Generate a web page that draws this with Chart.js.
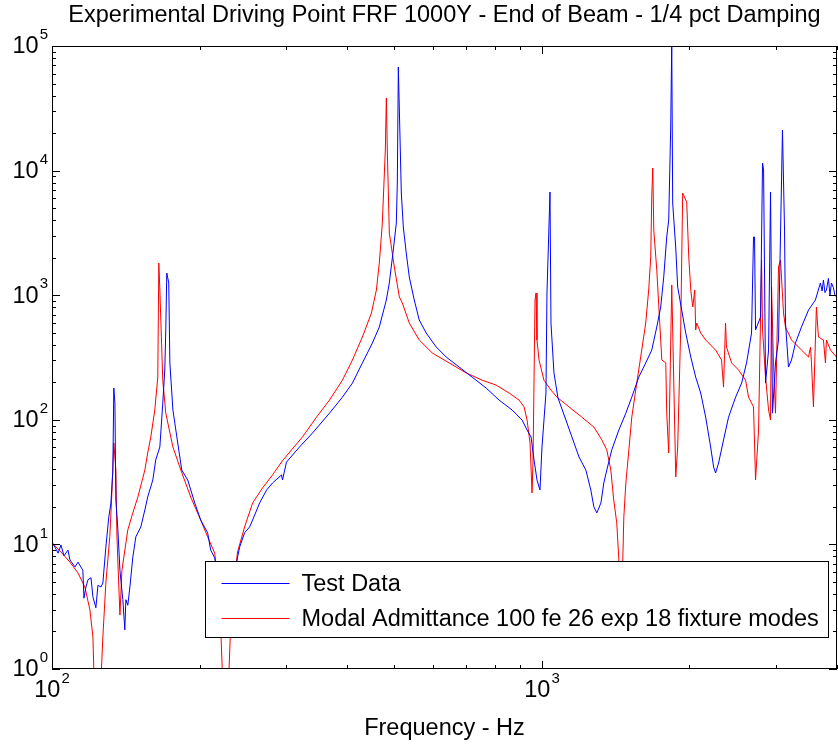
<!DOCTYPE html>
<html>
<head>
<meta charset="utf-8">
<title>Driving Point FRF</title>
<script src="https://cdn.jsdelivr.net/npm/chart.js@4.4.0/dist/chart.umd.min.js"></script>
<style>
  html, body { margin: 0; padding: 0; background: #fff; }
  #wrap { width: 838px; height: 745px; }
</style>
</head>
<body>
<div id="wrap"><canvas id="frf" width="838" height="745"></canvas></div>
<script>
// --- data (Hz, magnitude) ---
var testFreq = [
  100, 101.4, 102.9, 104.3, 105.8, 107.8, 108.8, 111.4, 113, 115.6,
  116.2, 117.3, 118.4, 120.1, 121.2, 122.9, 124.1, 125.9, 127.0, 128.8,
  130.6, 131.9, 133.1, 133.7, 134.4, 135.0, 136.3, 137.6, 139.5, 140.8,
  141.5, 142.8, 144.2, 146.2, 148.3, 151.8, 154.7, 156.8, 160.6, 162.8,
  166.0, 168.3, 169.9, 170.7, 171.5, 173.1, 174.0, 176.5, 179.8, 184.0,
  189.2, 195.6, 201.1, 207.8, 210.8, 214.8, 222, 237, 239.2, 241.5,
  247.2, 253.1, 256.7, 265.3, 274.1, 281.9, 294.0, 295.4, 301, 320,
  340.1, 368.4, 391.5, 410.3, 430, 450.7, 465.6, 481.2, 488, 497.2,
  504.3, 506.7, 509.1, 516.3, 521.2, 528.4, 536, 548.7, 561.7, 580.4,
  608.3, 637.5, 677.6, 720.1, 769, 817.4, 868.8, 910.7, 932.3, 949.9,
  963.3, 976.8, 990.6, 1000, 1018.8, 1023.7, 1038.3, 1043.1, 1057.8, 1077.9,
  1119, 1151, 1190, 1229, 1258, 1276, 1294, 1319, 1337, 1356,
  1388, 1435, 1483, 1525, 1576, 1628, 1675, 1715, 1747, 1772,
  1797, 1814, 1831, 1840, 1848, 1875, 1892, 1928, 1965, 2012,
  2059, 2108, 2158, 2209, 2240, 2261, 2293, 2347, 2403, 2484,
  2555, 2615, 2677, 2702, 2715, 2728, 2793, 2819, 2833, 2859,
  2900, 2927, 2954, 2996, 3039, 3096, 3126, 3140, 3185, 3230,
  3291, 3385, 3499, 3614, 3700, 3730, 3753, 3780, 3806, 3842,
  3870, 3897, 3933, 3960, 3990
];
var testMag = [
  10.4, 9.5, 8.5, 9.9, 8.1, 9.0, 7.5, 6.6, 7.2, 6.2,
  3.7, 4.55, 5.2, 5.4, 3.8, 3.1, 4.7, 4.55, 4.9, 9.5,
  16.6, 21.5, 39.5, 180, 136, 22.7, 13.1, 6.2, 3.6, 2.06,
  3.6, 3.25, 4.55, 7.9, 11.5, 13.8, 18.9, 24, 32.9, 47.6,
  60.5, 136, 251, 526, 1507, 1253, 286, 120, 72.8, 39.5,
  32.9, 21.5, 15.7, 12.4, 9.0, 7.8, 3.6, 6.2, 7.9, 9.5,
  12.4, 13.8, 15.7, 21.5, 27.3, 31.1, 36.1, 32.9, 45.8, 60.5,
  78.3, 113, 152, 197, 286, 413, 556, 915, 1253, 2306,
  3795, 7950, 67800, 6610, 3524, 2183, 1400, 915, 632, 497,
  384, 319, 265, 220, 180, 144, 120, 99.6, 82.8, 72.8,
  47.6, 32.9, 27.3, 60.5, 164, 1042, 6730, 598, 238, 150,
  99.6, 72.8, 50.3, 39.5, 27.3, 20, 17.9, 21.5, 31.1, 39.5,
  57.3, 82.8, 113, 152, 220, 286, 363, 556, 804, 1400,
  2931, 4017, 22390, 105000, 5500, 2393, 1164, 760, 497, 319,
  220, 164, 105, 60.5, 41.8, 37.4, 45, 68.9, 105, 152,
  197, 286, 497, 2931, 2931, 526, 668, 11510, 10120, 197,
  363, 6730, 113, 286, 437, 21180, 3334, 598, 265, 302,
  413, 556, 760, 915, 1253, 1080, 1324, 1050, 1101, 1364,
  1000, 1253, 1150, 1004, 968
];

var modalFreq = [
  100, 104.3, 108.8, 113, 116.7, 119.5, 121.2, 122.3, 125.2, 127,
  128.8, 131.2, 132.5, 133.7, 135, 135.7, 136.9, 137.6, 138.9, 142.8,
  146.2, 149.7, 154.7, 156.8, 159.1, 162.1, 164.4, 165.2, 166, 168.3,
  170.7, 176.5, 183.2, 191.9, 201.1, 207.8, 214.8, 219.9, 224, 228.3,
  232.6, 239.2, 247.2, 256.7, 269, 281.9, 294, 308.1, 324.5, 346.6,
  368.4, 391.5, 410.3, 430, 448.6, 459.2, 465.6, 472.2, 478.9, 481.2,
  483.4, 488, 499.6, 511.5, 518.8, 536, 561.7, 597, 646.5, 700.1,
  754.7, 806, 856.7, 898, 919.2, 932.3, 945.4, 954.3, 958.8, 967.8,
  972.3, 976.8, 986.1, 1009.3, 1043.1, 1073, 1135, 1206, 1276, 1325,
  1356, 1382, 1401, 1421, 1435, 1442, 1455, 1469, 1483, 1504,
  1525, 1561, 1598, 1628, 1651, 1667, 1675, 1683, 1691, 1715,
  1739, 1756, 1789, 1797, 1814, 1840, 1875, 1892, 1919, 1937,
  1965, 1974, 1993, 2012, 2031, 2050, 2059, 2069, 2108, 2158,
  2261, 2325, 2347, 2369, 2380, 2438, 2519, 2603, 2640, 2702,
  2728, 2767, 2806, 2819, 2859, 2900, 2927, 2941, 2968, 2996,
  3039, 3068, 3111, 3140, 3230, 3385, 3499, 3532, 3548, 3581,
  3631, 3666, 3753, 3789, 3806, 3879, 3990
];
var modalMag = [
  10.3, 8.7, 7.2, 5.9, 4.55, 2.98, 1.81, 0.5, 0.5, 1.81,
  4.9, 11.5, 25.9, 65.2, 39.5, 11.5, 4.55, 2.71, 6.2, 13.1,
  17.9, 24, 39.5, 54.2, 72.8, 120, 220, 1813, 1101, 208,
  113, 60.5, 39.5, 24, 15.7, 11.5, 8.5, 3.6, 0.5, 0.5,
  3.6, 8.7, 13.8, 21.5, 28.4, 36.1, 45.8, 57.3, 72.8, 105,
  144, 208, 302, 462, 719, 1101, 1813, 3795, 14630, 38280,
  14630, 3155, 1683, 968, 865, 598, 437, 344, 286, 238,
  208, 190, 164, 144, 127, 99.6, 65.2, 25.9, 47.6, 915,
  1042, 437, 302, 208, 173, 152, 127, 105, 87.5, 68.9,
  57.3, 39.5, 22.7, 14.9, 7.5, 3.6, 3.6, 16.6, 31.1, 57.3,
  105, 197, 363, 598, 1101, 2027, 6140, 10490, 3334, 1592,
  598, 302, 286, 113, 54.2, 1208, 34.8, 60.5, 526, 6610,
  5810, 5600, 2027, 1101, 804, 1101, 526, 598, 497, 437,
  363, 302, 183, 598, 384, 286, 251, 208, 152, 127,
  32.9, 82.8, 1918, 526, 220, 120, 99.6, 1164, 286, 113,
  1683, 1918, 719, 556, 437, 363, 319, 384, 286, 127,
  804, 462, 437, 286, 437, 363, 319
];

var seriesLabels = ['Test Data', 'Modal Admittance 100 fe 26 exp 18 fixture modes'];
var seriesColors = ['#0000ff', '#ff0000'];
var xRange = [100, 4000];
var yRange = [1, 100000];
var xLabelExps = [2, 3];
var yLabelExps = [0, 1, 2, 3, 4, 5];

var FONT = '"Liberation Sans", Arial, Helvetica, sans-serif';
var FS = 23.5;   // main text size
var FS_EXP = 15; // exponent size

function zip(xs, ys) {
  var out = [];
  for (var i = 0; i < Math.min(xs.length, ys.length); i++) out.push({ x: xs[i], y: ys[i] });
  return out;
}

// 1..9 x 10^n tick positions inside a range
function logTicks(min, max) {
  var out = [];
  for (var e = Math.floor(Math.log10(min)); e <= Math.ceil(Math.log10(max)); e++) {
    for (var m = 1; m < 10; m++) {
      var v = m * Math.pow(10, e);
      if (v >= min * 0.9999 && v <= max * 1.0001) out.push({ v: v, major: m === 1 });
    }
  }
  return out;
}

function drawPower(ctx, exp, x, y, align) {
  ctx.font = FS + 'px ' + FONT;
  var wb = ctx.measureText('10').width;
  ctx.font = FS_EXP + 'px ' + FONT;
  var ws = ctx.measureText(String(exp)).width;
  var left = align === 'right' ? x - wb - ws - 1 : x - (wb + ws + 1) / 2;
  ctx.textAlign = 'left';
  ctx.textBaseline = 'middle';
  ctx.font = FS + 'px ' + FONT;
  ctx.fillText('10', left, y);
  ctx.font = FS_EXP + 'px ' + FONT;
  ctx.fillText(String(exp), left + wb + 1, y - 12);
}

// MATLAB style box: inward ticks on four sides, 10^n labels, legend box inside
var matlabAxes = {
  id: 'matlabAxes',
  afterDatasetsDraw: function (chart) {
    var ctx = chart.ctx;
    var a = chart.chartArea;
    var xs = chart.scales.x, ys = chart.scales.y;
    ctx.save();
    ctx.strokeStyle = '#000';
    ctx.fillStyle = '#000';
    ctx.lineWidth = 1;

    ctx.beginPath();
    logTicks(xs.min, xs.max).forEach(function (t) {
      var px = Math.round(xs.getPixelForValue(t.v)) + 0.5;
      var len = t.major ? 8 : 4;
      ctx.moveTo(px, a.bottom); ctx.lineTo(px, a.bottom - len);
      ctx.moveTo(px, a.top); ctx.lineTo(px, a.top + len);
    });
    logTicks(ys.min, ys.max).forEach(function (t) {
      var py = Math.round(ys.getPixelForValue(t.v)) + 0.5;
      var len = t.major ? 8 : 4;
      ctx.moveTo(a.left, py); ctx.lineTo(a.left + len, py);
      ctx.moveTo(a.right, py); ctx.lineTo(a.right - len, py);
    });
    ctx.stroke();
    ctx.strokeRect(Math.round(a.left) + 0.5, Math.round(a.top) + 0.5,
      Math.round(a.right - a.left) - 1, Math.round(a.bottom - a.top) - 1);

    xLabelExps.forEach(function (e) {
      drawPower(ctx, e, xs.getPixelForValue(Math.pow(10, e)), a.bottom + 22, 'center');
    });
    yLabelExps.forEach(function (e) {
      drawPower(ctx, e, a.left - 4, ys.getPixelForValue(Math.pow(10, e)) + 1, 'right');
    });

    // legend
    var sets = chart.data.datasets;
    ctx.font = FS + 'px ' + FONT;
    var tw = 0;
    sets.forEach(function (d) { tw = Math.max(tw, ctx.measureText(d.label).width); });
    var boxW = Math.round(96 + tw + 10), boxH = 76;
    var bx = Math.round(a.right - 9 - boxW) + 0.5;
    var by = Math.round(a.bottom - 32 - boxH) + 0.5;
    ctx.fillStyle = '#fff';
    ctx.fillRect(bx, by, boxW, boxH);
    ctx.strokeStyle = '#000';
    ctx.strokeRect(bx, by, boxW, boxH);
    sets.forEach(function (d, i) {
      var ry = Math.round(by + 21 + i * 35) + 0.5;
      ctx.strokeStyle = d.borderColor;
      ctx.beginPath();
      ctx.moveTo(bx + 16, ry); ctx.lineTo(bx + 84, ry);
      ctx.stroke();
      ctx.fillStyle = '#000';
      ctx.textAlign = 'left';
      ctx.textBaseline = 'middle';
      ctx.fillText(d.label, bx + 96, ry + 1);
    });
    ctx.restore();
  }
};

new Chart(document.getElementById('frf'), {
  type: 'line',
  data: {
    datasets: [
      { label: seriesLabels[0], data: zip(testFreq, testMag), borderColor: seriesColors[0],
        borderWidth: 1, pointRadius: 0, tension: 0, fill: false },
      { label: seriesLabels[1], data: zip(modalFreq, modalMag), borderColor: seriesColors[1],
        borderWidth: 1, pointRadius: 0, tension: 0, fill: false }
    ]
  },
  options: {
    responsive: false,
    animation: false,
    devicePixelRatio: 1,
    layout: { padding: { left: 52, right: 1, top: 0, bottom: 0 } },
    plugins: {
      legend: { display: false },
      tooltip: { enabled: false },
      title: {
        display: true,
        text: 'Experimental Driving Point FRF 1000Y - End of Beam - 1/4 pct Damping',
        color: '#000',
        font: { family: FONT, size: FS, weight: 'normal', lineHeight: 1.2 },
        padding: { top: 1, bottom: 16.8 }
      }
    },
    scales: {
      x: {
        type: 'logarithmic',
        min: xRange[0], max: xRange[1],
        grid: { display: false, drawTicks: false },
        border: { display: false },
        ticks: { display: false },
        title: {
          display: true, text: 'Frequency - Hz', color: '#000',
          font: { family: FONT, size: FS, lineHeight: 1.2 },
          padding: { top: 45.8, bottom: 2 }
        }
      },
      y: {
        type: 'logarithmic',
        display: false,
        min: yRange[0], max: yRange[1]
      }
    }
  },
  plugins: [matlabAxes]
});
</script>
</body>
</html>
